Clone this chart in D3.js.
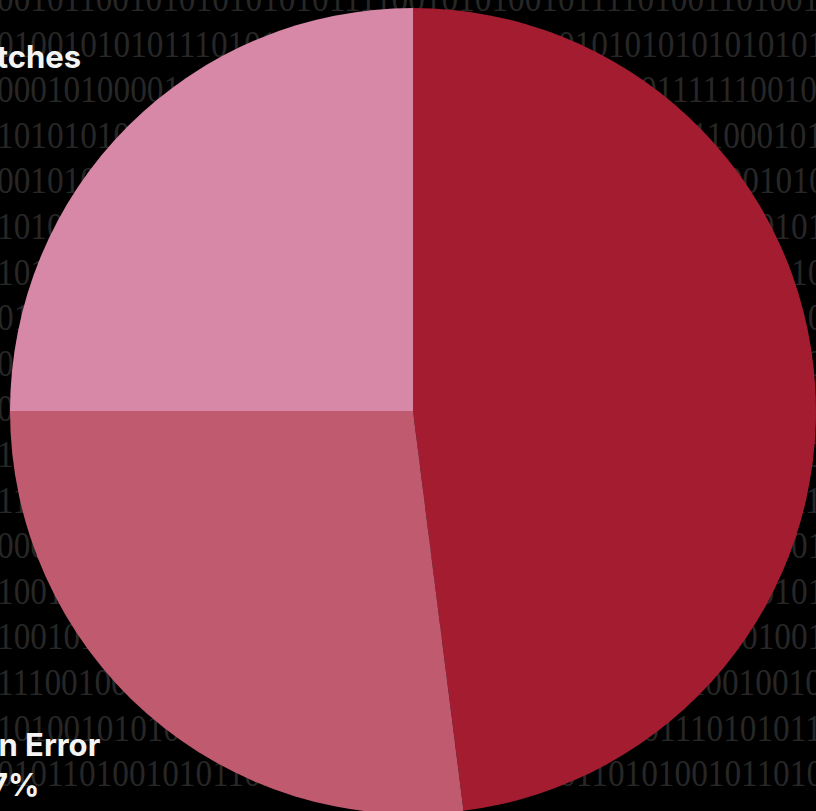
<!DOCTYPE html>
<html>
<head>
<meta charset="utf-8">
<script src="https://cdn.jsdelivr.net/npm/d3@7"></script>
<style>
  html, body { margin: 0; padding: 0; background: #000; overflow: hidden; }
  svg { display: block; }
</style>
</head>
<body>
<svg id="chart"></svg>
<script>
// Slice data
const categories = ["Phishing Attacks", "Human Error", "Missing Patches"];
const values = [48, 27, 25];
const colors = ["#a31c2f", "#c05a6e", "#d688a6"];

// Background binary rows (decoration)
const binaryRows = [
  "0010110010101010101011110010101001011110100110100101",
  "0100101010111010100101011100101010010101010101010110",
  "0001010000101100101011010010100101011110111111001010",
  "1010101001011010100101101001010100101011101100010110",
  "0010100101101001010101001010110101001011010100101011",
  "1010100101101010010110101001011010100101101010010100",
  "1010101011010010101101010010110101001011010101001001",
  "0110100101011010101001011010100101101010100101001010",
  "0101101001010110101001011010100101011010100101101001",
  "0100101101010010110101001010110100101011010100101001",
  "1010010110100101011010100101101001010110101001011010",
  "1101001010110100101101010010110101001011010100101101",
  "0001010110100101010110100101101010010110101001010100",
  "1001010100101101010010110101001011010100101101010100",
  "1001010110100101011010100101101001010110101010100110",
  "1110010001011010100101101010010110101001011001001001",
  "1010010101010110101001011010100101101010111010101110",
  "0101101001010110101001011010100101011010100101101001"
];

const width = 816;
const height = 811;
const cx = 413;
const cy = 411;
const radius = 403;

const svg = d3.select('#chart')
  .attr('width', width)
  .attr('height', height);

svg.append('rect')
  .attr('width', width)
  .attr('height', height)
  .attr('fill', '#000');

// Binary backdrop
const bg = svg.append('g')
  .attr('transform', 'translate(-3,0) scale(0.9,1)');

bg.selectAll('text')
  .data(binaryRows)
  .enter()
  .append('text')
  .attr('x', 0)
  .attr('y', (d, i) => 11 + i * 45.6)
  .attr('font-family', '"Liberation Serif", serif')
  .attr('font-size', 37)
  .attr('fill', '#272727')
  .text(d => d);

// Pie
const pie = d3.pie().sort(null).value(d => d);
const arc = d3.arc().innerRadius(0).outerRadius(radius);
const arcs = pie(values);

const g = svg.append('g')
  .attr('transform', `translate(${cx},${cy})`);

g.selectAll('path')
  .data(arcs)
  .enter()
  .append('path')
  .attr('d', arc)
  .attr('fill', (d, i) => colors[i]);

// Labels placed on an ellipse around the pie, pushed out a bit more near the top
const labelRx = 617;
const labelRy = 472;
const labelPush = { "Missing Patches": -20 };

const labels = g.selectAll('.label')
  .data(arcs)
  .enter()
  .append('text')
  .attr('class', 'label')
  .attr('text-anchor', 'middle')
  .attr('font-family', 'Inter, "Noto Sans", sans-serif')
  .attr('font-weight', 700)
  .attr('font-size', 31)
  .attr('fill', '#f4f4f4')
  .attr('transform', (d, i) => {
    const a = (d.startAngle + d.endAngle) / 2;
    const dx = labelPush[categories[i]] || 0;
    return `translate(${Math.sin(a) * labelRx + dx},${-Math.cos(a) * labelRy})`;
  });

labels.append('tspan')
  .attr('x', 0)
  .attr('y', -9)
  .text((d, i) => categories[i]);

labels.append('tspan')
  .attr('x', 0)
  .attr('y', 31)
  .text(d => d.value + '%');
</script>
</body>
</html>
